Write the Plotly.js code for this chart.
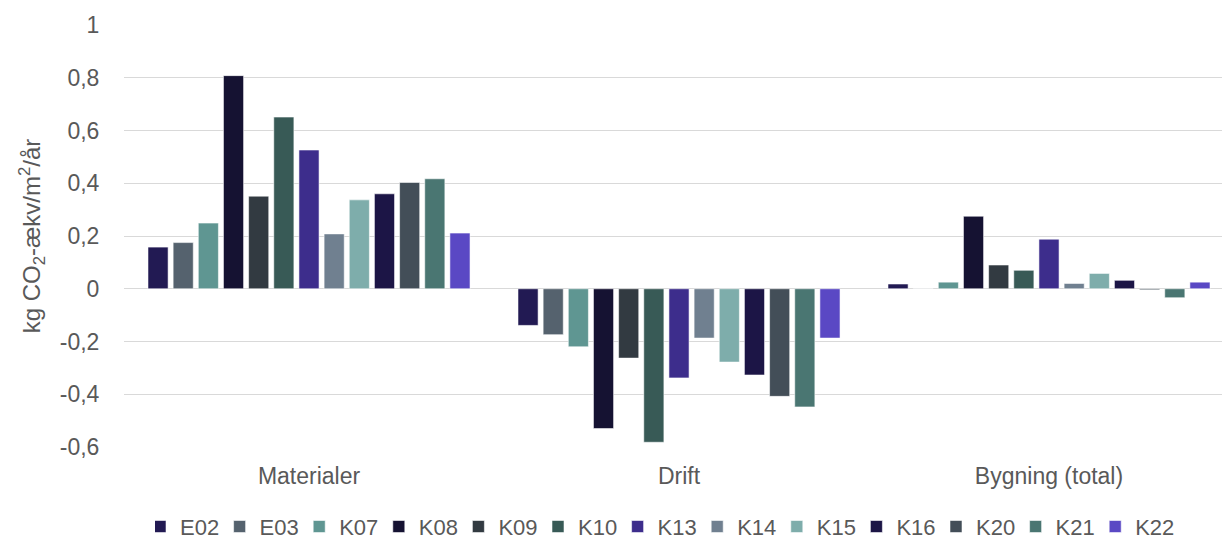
<!DOCTYPE html>
<html>
<head>
<meta charset="utf-8">
<script src="https://cdn.plot.ly/plotly-3.0.1.min.js"></script>
<style>
html,body{margin:0;padding:0;overflow:hidden;background:#fff;}
#chart{width:1240px;height:543px;}
</style>
</head>
<body>
<div id="chart"></div>
<script>
const categories = ['Materialer', 'Drift', 'Bygning (total)'];
const seriesNames = ['E02','E03','K07','K08','K09','K10','K13','K14','K15','K16','K20','K21','K22'];
const E02 = [0.158, -0.139, 0.018];
const E03 = [0.175, -0.174, 0.001];
const K07 = [0.249, -0.220, 0.025];
const K08 = [0.808, -0.530, 0.275];
const K09 = [0.351, -0.263, 0.090];
const K10 = [0.651, -0.582, 0.070];
const K13 = [0.526, -0.338, 0.188];
const K14 = [0.208, -0.187, 0.020];
const K15 = [0.337, -0.278, 0.058];
const K16 = [0.360, -0.327, 0.032];
const K20 = [0.403, -0.408, -0.004];
const K21 = [0.417, -0.448, -0.034];
const K22 = [0.211, -0.187, 0.025];
const seriesValues = [E02,E03,K07,K08,K09,K10,K13,K14,K15,K16,K20,K21,K22];
const colors = ['#221a53','#55626e','#5f9692','#151232','#323a41','#385a56','#3d2d8c','#708090','#7eadab','#1c1546','#434e58','#4a7672','#5a48c4'];
const yTickVals = [-0.6,-0.4,-0.2,0,0.2,0.4,0.6,0.8,1];
const yTickText = ['-0,6','-0,4','-0,2','0','0,2','0,4','0,6','0,8','1'];

const FONT = 'Liberation Sans, Arial, sans-serif';
const TXT = '#595959';
const FS = 23;

const traces = seriesNames.map((name, i) => ({
  type: 'bar',
  name: name,
  x: categories,
  y: seriesValues[i],
  marker: {color: colors[i], line: {color: 'rgba(255,255,255,0.55)', width: 1}},
  hoverinfo: 'x+y+name'
}));

const layout = {
  width: 1240,
  height: 543,
  margin: {l: 124, r: 6, t: 25, b: 96, autoexpand: false},
  paper_bgcolor: '#ffffff',
  plot_bgcolor: '#ffffff',
  font: {family: FONT, size: FS, color: TXT},
  barmode: 'group',
  bargap: 0.116,
  bargroupgap: 0.2,
  showlegend: true,
  legend: {
    orientation: 'h',
    xref: 'container', yref: 'container',
    x: 0.125, xanchor: 'left',
    y: 0.03, yanchor: 'middle',
    indentation: -15,
    entrywidth: 49.6, entrywidthmode: 'pixels',
    font: {family: FONT, size: 22, color: TXT},
    traceorder: 'normal',
    itemclick: false
  },
  xaxis: {
    type: 'category',
    showgrid: false,
    zeroline: false,
    showline: false,
    ticks: 'outside', ticklen: 8, tickcolor: 'rgba(0,0,0,0)',
    tickfont: {family: FONT, size: FS, color: TXT},
    fixedrange: true
  },
  yaxis: {
    range: [-0.6, 1],
    tickvals: yTickVals,
    ticktext: yTickText,
    showgrid: true,
    gridcolor: '#d9d9d9',
    gridwidth: 1,
    zeroline: true,
    zerolinecolor: '#d9d9d9',
    zerolinewidth: 1,
    showline: false,
    ticks: 'outside', ticklen: 19, tickcolor: 'rgba(0,0,0,0)',
    tickfont: {family: FONT, size: FS, color: TXT},
    title: {text: 'kg CO<sub>2</sub>-ækv/m<sup>2</sup>/år', standoff: 12, font: {family: FONT, size: 24, color: TXT}},
    automargin: false,
    fixedrange: true
  }
};

Plotly.newPlot('chart', traces, layout, {displayModeBar: false});
</script>
</body>
</html>
